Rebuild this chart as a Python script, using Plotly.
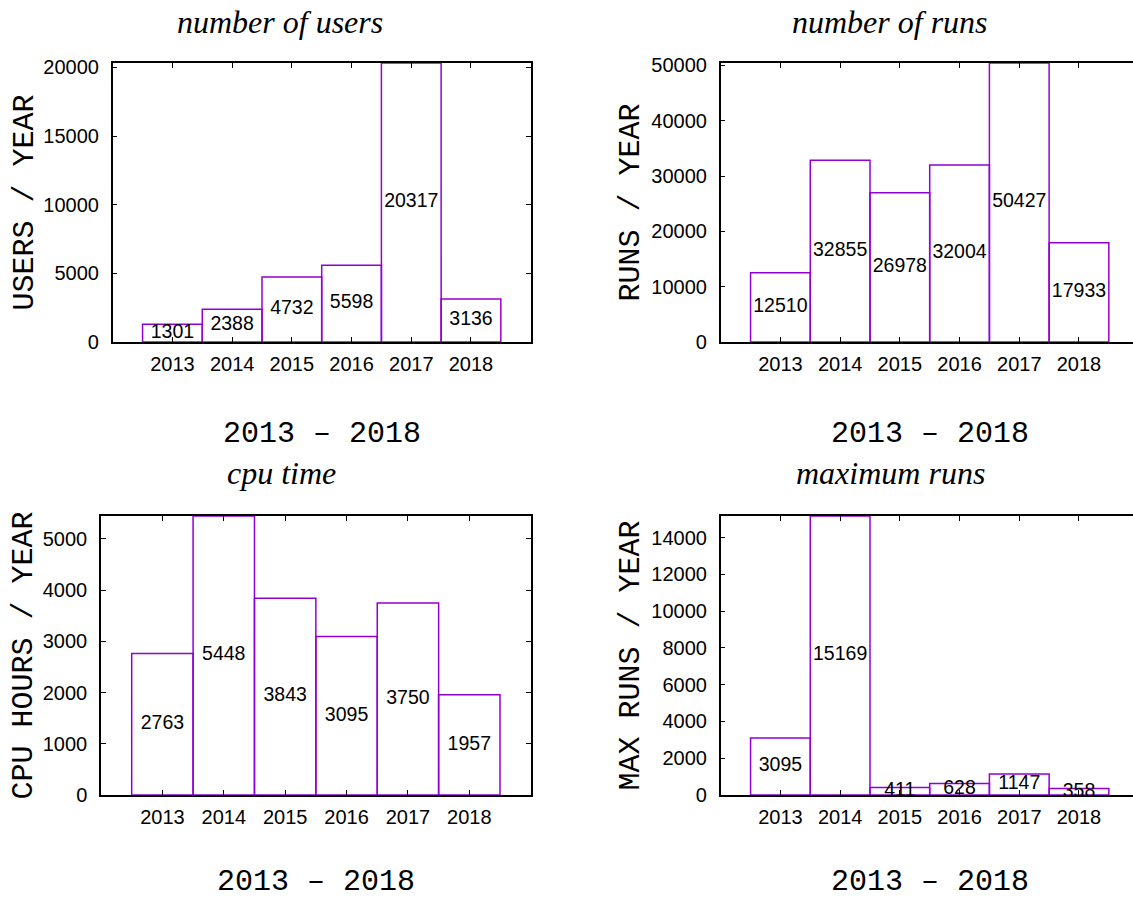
import plotly.graph_objects as go

# ---- data ----
years = [2013, 2014, 2015, 2016, 2017, 2018]
year_labels = ["2013", "2014", "2015", "2016", "2017", "2018"]
users = [1301, 2388, 4732, 5598, 20317, 3136]
runs = [12510, 32855, 26978, 32004, 50427, 17933]
cpu_hours = [2763, 5448, 3843, 3095, 3750, 1957]
max_runs = [3095, 15169, 411, 628, 1147, 358]

titles = ["number of users", "number of runs", "cpu time", "maximum runs"]
ylabels = ["USERS / YEAR", "RUNS / YEAR", "CPU HOURS / YEAR", "MAX RUNS / YEAR"]
xlabel = "2013 \u2013 2018"
series = [users, runs, cpu_hours, max_runs]
ydticks = [5000, 10000, 1000, 2000]

# ---- layout geometry (pixels) ----
W, H = 1133, 901
BAR_COLOR = "#9400D3"
SANS = "Liberation Sans, Arial, sans-serif"
MONO = "Liberation Mono, Courier New, monospace"
SERIF = "Liberation Serif, Times New Roman, serif"

# plot boxes: (left, right, top, bottom) in px
boxes = [
    (112.7, 530.7, 63.0, 342.0),
    (720.7, 1138.7, 63.0, 342.0),
    (101.0, 530.7, 516.0, 795.0),
    (720.7, 1138.7, 516.0, 795.0),
]
title_pos = [(280, 22), (890, 22), (281, 473), (890, 473)]
xlabel_y = [434, 434, 882, 882]
ylabel_x = [24, 630, 23, 630]

fig = go.Figure()
annotations = []

for i, (vals, box) in enumerate(zip(series, boxes)):
    n = "" if i == 0 else str(i + 1)
    xa, ya = "x" + n, "y" + n
    left, right, top, bottom = box
    clip_right = min(right, W)
    spacing = (right - left) / 7.0
    xmax = 2012 + (clip_right - left) / spacing

    fig.add_trace(go.Bar(
        x=years, y=vals, width=1.0,
        marker=dict(color="rgba(0,0,0,0)", line=dict(color=BAR_COLOR, width=1.5)),
        xaxis=xa, yaxis=ya, showlegend=False, hoverinfo="skip",
    ))
    fig.add_trace(go.Scatter(
        x=years, y=[v / 2 for v in vals], mode="text",
        text=[str(v) for v in vals],
        textfont=dict(family=SANS, size=19.5, color="black"),
        xaxis=xa, yaxis=ya, showlegend=False, hoverinfo="skip", cliponaxis=False,
    ))

    right_side = right > W
    fig.update_layout(**{
        "xaxis" + n: dict(
            domain=[left / W, clip_right / W], range=[2012, xmax],
            tickvals=years, ticktext=year_labels, ticks="inside", ticklen=5,
            tickcolor="black", tickwidth=1, showline=True, linecolor="black",
            linewidth=1.5, mirror="ticks", showgrid=False, zeroline=False,
            tickfont=dict(family=SANS, size=20, color="black"),
            ticklabelstandoff=3, anchor=ya, automargin=False, fixedrange=True,
        ),
        "yaxis" + n: dict(
            domain=[1 - bottom / H, 1 - top / H], range=[0, max(vals)],
            dtick=ydticks[i], tick0=0, tickformat="d", ticks="inside", ticklen=5,
            tickcolor="black", tickwidth=1, showline=True, linecolor="black",
            linewidth=1.5, mirror=(False if right_side else "ticks"),
            showgrid=False, zeroline=False,
            tickfont=dict(family=SANS, size=20, color="black"),
            ticklabelstandoff=8, anchor=xa, automargin=False, fixedrange=True,
        ),
    })

    annotations.append(dict(
        text=titles[i], x=title_pos[i][0] / W, y=1 - title_pos[i][1] / H,
        xref="paper", yref="paper", showarrow=False, xanchor="center", yanchor="middle",
        font=dict(family=SERIF, size=32, color="black", style="italic"),
    ))
    annotations.append(dict(
        text=xlabel, x=((left + right) / 2) / W, y=1 - xlabel_y[i] / H,
        xref="paper", yref="paper", showarrow=False, xanchor="center", yanchor="middle",
        font=dict(family=MONO, size=30, color="black"),
    ))
    annotations.append(dict(
        text=ylabels[i], x=ylabel_x[i] / W, y=1 - ((top + bottom) / 2) / H,
        xref="paper", yref="paper", showarrow=False, xanchor="center", yanchor="middle",
        textangle=-90, font=dict(family=MONO, size=30, color="black"),
    ))

fig.update_layout(
    width=W, height=H, margin=dict(l=0, r=0, t=0, b=0),
    paper_bgcolor="white", plot_bgcolor="white",
    annotations=annotations, barmode="overlay", showlegend=False,
)

fig.write_html(
    "out.html",
    config={"displayModeBar": False},
    post_script="document.body.style.margin='0';document.body.style.overflow='hidden';",
)
